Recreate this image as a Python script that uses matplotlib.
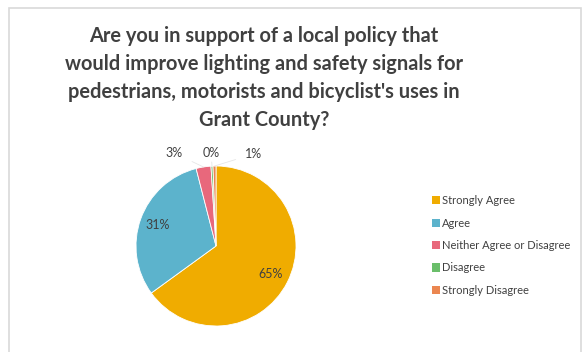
import matplotlib.pyplot as plt
from matplotlib.patches import Rectangle, Patch
import numpy as np

plt.rcParams['font.family'] = ['Lato', 'DejaVu Sans']

# survey responses (percent of respondents)
answers = ['Strongly Agree', 'Agree', 'Neither Agree or Disagree',
           'Disagree', 'Strongly Disagree']
shares = [65.0, 31.0, 3.0, 0.4, 0.6]
shown = ['65%', '31%', '3%', '0%', '1%']
colors = ['#F0AC00', '#5CB3CC', '#E8687C', '#6ABE6A', '#EB8650']

title = ("Are you in support of a local policy that\n"
         "would improve lighting and safety signals for\n"
         "pedestrians, motorists and bicyclist's uses in\n"
         "Grant County?")

W, H = 582, 352
fig = plt.figure(figsize=(W / 100, H / 100), dpi=100)

# chart frame
fig.patches.append(Rectangle((9 / W, -0.1), (572 / W), (344 / H) + 0.1,
                             transform=fig.transFigure, fill=False,
                             edgecolor='#D9D9D9', linewidth=1.2))

fig.text(264 / W, 1 - 78 / H, title, ha='center', va='center',
         fontsize=14.4, fontweight='bold', color='#404040', linespacing=1.52)

cx, cy, r = 216, 246, 80
ax = fig.add_axes([(cx - r) / W, (H - cy - r) / H, 2 * r / W, 2 * r / H])
wedges, _ = ax.pie(shares, colors=colors, startangle=90, counterclock=False,
                   radius=1, wedgeprops=dict(edgecolor='white', linewidth=0.6))
ax.set_xlim(-1, 1)
ax.set_ylim(-1, 1)
ax.set_aspect('equal')
ax.axis('off')

# labels inside the two large slices
for w, s, dist in zip(wedges[:2], shown[:2], [0.76, 0.78]):
    a = np.deg2rad((w.theta1 + w.theta2) / 2)
    ax.text(dist * np.cos(a), dist * np.sin(a), s, ha='center', va='center',
            fontsize=9, color='#404040')

# small slices get labels above the pie with leader lines
spots = [(-0.52, 1.16), (-0.06, 1.16), (0.47, 1.15)]
for w, s, xy in zip(wedges[2:], shown[2:], spots):
    a = np.deg2rad((w.theta1 + w.theta2) / 2)
    tip = (np.cos(a), np.sin(a))
    ax.annotate(s, xy=tip, xytext=xy, ha='center', va='center',
                fontsize=9, color='#404040', annotation_clip=False,
                arrowprops=dict(arrowstyle='-', color='#E6E6E6', lw=0.6,
                                shrinkA=5, shrinkB=0))

handles = [Patch(facecolor=c, edgecolor='none') for c in colors]
fig.legend(handles, answers, loc='center left',
           bbox_to_anchor=(422 / W, 1 - 245.5 / H), frameon=False,
           fontsize=8, labelcolor='#404040', handlelength=0.75,
           handleheight=0.75, handletextpad=0.15, labelspacing=1.03)

fig.savefig('out.png', dpi=100, facecolor='white')
